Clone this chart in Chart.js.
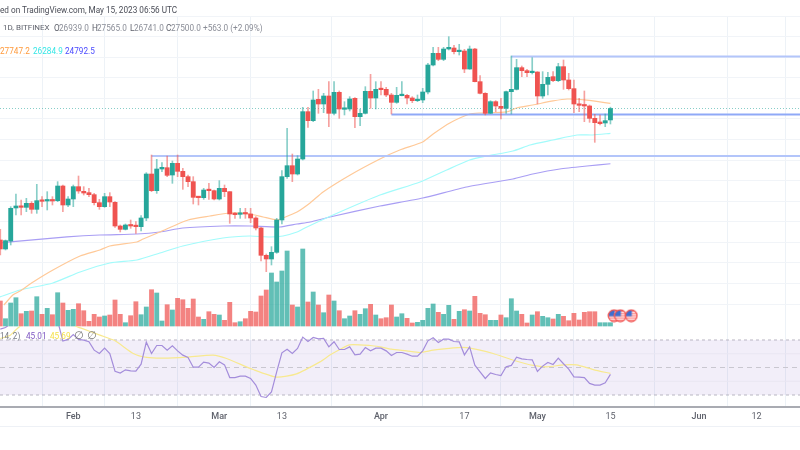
<!DOCTYPE html>
<html><head><meta charset="utf-8">
<style>
html,body{margin:0;padding:0;background:#fff;width:800px;height:450px;overflow:hidden}
#wrap{position:relative;width:800px;height:450px;filter:blur(0.35px)}
canvas{position:absolute;left:0;top:0}
.t{position:absolute;white-space:nowrap;font-family:Roboto,sans-serif;line-height:12px;color:#8a8d97;font-size:8.2px}
</style></head><body><div id="wrap"><canvas id="c" width="800" height="450"></canvas></div>
<script src="https://cdn.jsdelivr.net/npm/chart.js@4"></script>
<script>
const firstDay=-14;
const opens=[21057,20616,21008,22625,22723,22657,22853,22559,23000,22968,23017,22984,23702,22772,23065,23670,23441,23376,23278,22886,22690,23180,22902,21743,21579,21792,21743,21710,22135,24290,23474,24535,24600,24241,24813,24421,24160,23915,23163,23131,23523,23474,23065,23588,23425,22331,22314,22363,22331,22135,21645,20306,20126,20453,22037,24160,24698,24290,25025,27345,26904,27949,27721,28113,27264,28292,27460,27476,27998,27100,27264,28341,28015,28456,28439,28162,27802,28129,28145,28015,27884,27917,28309,29631,30203,29909,30415,30464,30285,30317,29435,30415,28815,28243,27264,27835,27606,27508,28325,28439,29501,29354,29256,29288,28113,28684,29060,28864,29550,28897,28472,27721,27672,27623,27018,26839,26790,26939];
const highs=[21580,21057,22690,23310,23017,23098,22935,23784,23180,23425,23180,23915,23751,23180,23751,24192,23670,23588,23343,23049,23343,23376,22935,21792,21841,22037,21955,22249,24356,25221,25009,24845,25172,24927,25221,24568,24241,24160,23180,23588,23833,23506,23964,23751,23425,22396,22608,22608,22608,22200,21677,20371,20730,22118,24454,26530,25270,25188,27557,27557,28358,28439,28243,28815,28815,28358,27835,28080,28031,27476,28570,29174,28815,28815,28537,28243,28537,28815,28194,28080,28162,28488,29713,30497,30497,30497,31019,30595,30644,30399,30562,30448,29109,28276,27884,27884,27998,28358,30072,29909,29582,29419,29991,29305,29305,29272,29305,29713,29876,29223,28897,27998,28358,27672,27214,27182,27231,27565];
const lows=[20322,20567,20812,22282,22282,22445,22363,22363,22690,22527,22772,22935,22445,22690,22690,23343,23261,23180,22772,22559,22657,22690,21677,21449,21547,21628,21384,21498,22004,23425,23343,24404,24160,23833,24160,23539,23670,22820,22772,23049,23049,23017,23017,23180,21873,22118,22118,22118,21906,21547,20028,19505,19832,20404,21841,24078,23915,24241,24977,26577,26855,27264,27296,26610,27182,27018,27182,27378,26561,26659,27231,27508,27476,28162,28080,27231,27753,28113,27721,27786,27835,27786,28211,29582,29844,29844,30366,30170,30121,29256,29419,28800,28211,27182,27250,27345,26986,27264,27231,28407,29060,29060,29190,27721,27998,28162,28815,28815,28439,28407,27296,27345,26855,26823,25843,26692,26610,26741];
const closes=[20616,21024,22608,22723,22657,22853,22559,22984,22951,23017,22968,23702,22772,23065,23670,23457,23359,23278,22886,22690,23180,22919,21743,21579,21792,21743,21710,22135,24290,23474,24535,24617,24225,24813,24421,24160,23915,23147,23131,23506,23474,23065,23588,23425,22331,22298,22363,22331,22135,21645,20306,20126,20453,22037,24160,24698,24290,25025,27345,26904,27917,27721,28113,27264,28292,27476,27476,27966,27100,27264,28341,28015,28439,28423,28162,27802,28145,28162,28015,27884,27917,28309,29631,30203,29909,30415,30497,30285,30317,29435,30415,28815,28243,27264,27835,27623,27508,28325,28439,29501,29354,29256,29288,28113,28684,29027,28864,29550,28897,28472,27721,27655,27623,27018,26806,26757,26904,27500];
const volumes=[25,7.3,23,28.3,12.3,14.7,15,29.3,11.7,17.7,11.3,33.3,23,15.7,16.7,22.3,15.3,4.7,11.7,9,10,11,26,11.7,3.3,10.3,24.3,11.3,19,36.3,33,5,21.3,16,27.7,26.3,17.7,27,9,6.7,14.3,11.7,11,5.7,23.7,3.3,4.3,7.3,14.7,14,30,36,53,44,55,75,21,19,77,24,34,21,13.3,31,25,15.3,7.3,10,15.3,11.7,17.3,21.7,11,7.3,8.3,21,9,12.3,7.7,3,3.7,5.7,17.7,22,13.7,11.7,20.7,6.7,14.7,16.3,15,29.7,12.7,11.3,5.7,5.7,11,8.3,27.3,15,11.7,3,11,14.3,9.7,8.3,7,11.7,9.7,5.3,12.7,6,13.7,14.3,14.3,3.3,3.3,3.3];
const volumeUpExtraDays=[81,101];
const rsiValues=[77.9,79.1,82,85.6,88,89.3,89.3,89.3,89.3,88,86.8,83.9,69.2,70.4,74,70.4,69.9,68.7,62.6,60.2,64.1,60.2,47.3,45.9,48.3,47.6,47.3,52.4,68.4,60.2,66,66,62.6,65.8,62.1,59,57.3,50.2,50.2,53.9,53.2,50,54.1,51.9,42.7,42.7,43.7,43.7,42,37.2,28.9,28.2,32.3,46.8,60.7,63.3,60.2,63.8,72.1,68.9,71.8,70.8,71.1,65,68.7,63.1,63.1,65,59.2,59.7,64.5,62.1,64.1,64.1,62.1,58.7,60.9,60.9,59.7,58.2,58.2,62.1,69.4,71.6,68.2,70.6,70.6,68.9,68.7,59.2,65,51.7,46.8,42,46.1,44.9,44.2,50.5,51.5,57.5,56.3,55.8,55.6,47.1,51,53.6,52.2,56.8,52.7,48.8,43.2,43,42.7,38.4,37.2,37.2,38.8,45.01];
const rsiMaDays=[-14,-12.1,-11.2,-10.2,-6.4,-1.9,0.5,1.9,5.1,8,11.5,14.1,17.3,21.7,26.8,29.4,34.5,39,42.8,47.3,49.2,51.1,53,56.9,58.8,61,63.9,66.5,69,72.9,75.4,78,80.5,84.4,88.2,90.8,94,96.5,99.7,103];
const rsiMaValues=[71.1,73.5,76.7,80,88,88,80,78.1,73.5,69.4,60.2,57.3,56.8,57.5,59,56.5,48.5,43,45.4,54.1,59,63.1,66.5,66,65,63.3,62.1,60.9,62.6,64.3,64.5,62.6,60.2,55.3,51.5,50.5,51.9,51.9,48.5,45.69];
const ma50Days=[-13.3,-11.6,-10.2,-7.7,-3.9,1.3,5.1,7,12.2,13.4,16.6,22,26.2,30,33.9,36.4,39.1,40.2,42.9,45.4,47.9,53.1,58.8,62.6,67,69,72.2,76,77.9,83.1,85,88.1,92,94.7,98.5,103];
const ma50Values=[17872,18362,18558,18999,19587,20273,20566,20762,20958,21105,21448,22036,22233,22380,22331,22184,22037,22135,22429,22870,23410,24242,25025,25468,25858,26250,26790,27230,27280,27330,27525,27670,27870,27965,27915,27747.2];
const ma100Days=[-14.1,-10.2,-3.9,1.3,7,12.2,16.6,21,28.7,33.9,37.7,40.2,42.9,44.4,49.8,58.8,66.5,71.6,76,79.3,84.3,87.6,92,96.6,99.6,103];
const ma100Values=[18265,18607,18950,19490,19930,20077,20420,20763,21155,21253,21204,21253,21449,21645,22281,23261,23899,24487,24977,25173,25418,25712,25957,26202,26202,26284.9];
const ma200Days=[-14.1,-12.1,-1.2,5.1,12.2,16.6,21,28.7,33.9,39.6,42.9,45.4,49.2,58.8,67,75.4,84.3,88.1,93.3,98.5,103];
const ma200Values=[20910,20960,21205,21302,21351,21448,21644,21742,21742,21693,21840,21938,22183,22722,23115,23654,24046,24290,24536,24683,24792.5];
const levelPrices=[25170,27206,30048];
const levelStartDays=[15,61,84];
const lastPrice=27500;
const rsiBandLevels=[70,50,30];
const rsiGridLevels=[60,40];
const tickDays=[0,12,28,40,59,75,89,103,120,131];
const tickLabels=["Feb","13","Mar","13","Apr","17","May","15","Jun","12"];
const monthTicks=["Feb","Mar","Apr","May","Jun"];
const eventDays=[103.7,104.9,107];
const eventLevel=10.3;

const xMin=-14.056,xMax=139.35;
const days=closes.map((_,i)=>firstDay+i);
const isUp=i=>closes[i]>=opens[i];
const UP='#26a69a',DOWN='#ef5350';

function flagIcon(){
  const c=document.createElement('canvas');c.width=14;c.height=14;const g=c.getContext('2d');
  g.beginPath();g.arc(7,7,5.8,0,Math.PI*2);g.fillStyle='#fff';g.fill();
  g.save();g.clip();
  g.fillStyle='#f77';for(let y=2;y<13;y+=2.2){g.fillRect(0,y,14,1.1)}
  g.fillStyle='#3d6fd0';g.fillRect(1,1,6.5,6.5);
  g.restore();
  g.beginPath();g.arc(7,7,5.8,0,Math.PI*2);g.strokeStyle='#ef5350';g.lineWidth=1.3;g.stroke();
  return c;
}
const lineDs=(xs,ys,color,extra)=>Object.assign({type:'line',yAxisID:'price',data:xs.map((x,i)=>({x,y:ys[i]})),borderColor:color,borderWidth:1.2,pointRadius:0,tension:0.2,fill:false,order:60},extra||{});
const rsiClip={top:-310,left:0,right:0,bottom:0};

const datasets=[
 {type:'line',yAxisID:'rsi',data:[{x:xMin,y:rsiBandLevels[0]},{x:xMax,y:rsiBandLevels[0]}],borderColor:'#b9b6c2',borderWidth:1,borderDash:[3,3],pointRadius:0,fill:{target:{value:rsiBandLevels[2]}},backgroundColor:'rgba(126,87,194,0.10)',order:95},
 {type:'line',yAxisID:'rsi',data:[{x:xMin,y:rsiBandLevels[1]},{x:xMax,y:rsiBandLevels[1]}],borderColor:'#c9c7d0',borderWidth:1,borderDash:[5,4],pointRadius:0,order:94},
 {type:'line',yAxisID:'rsi',data:[{x:xMin,y:rsiBandLevels[2]},{x:xMax,y:rsiBandLevels[2]}],borderColor:'#b9b6c2',borderWidth:1,borderDash:[3,3],pointRadius:0,order:93},
 ...rsiGridLevels.map(v=>({type:'line',yAxisID:'rsi',data:[{x:xMin,y:v},{x:xMax,y:v}],borderColor:'#e9e6f2',borderWidth:1,pointRadius:0,order:92})),
 {type:'bar',yAxisID:'vol',grouped:false,barThickness:4.2,data:days.map((x,i)=>({x,y:volumes[i]})),backgroundColor:days.map((d,i)=>(isUp(i)||volumeUpExtraDays.includes(d))?'rgba(38,166,154,0.72)':'rgba(239,83,80,0.72)'),order:80},
 lineDs(ma50Days,ma50Values,'#ffc998'),
 lineDs(ma100Days,ma100Values,'#a3fbfb'),
 lineDs(ma200Days,ma200Values,'#a99ef4'),
 ...levelPrices.map((p,i)=>lineDs([levelStartDays[i],xMax],[p,p],i===1?'#8fa9f7':'#b3c5fa',{borderWidth:2,tension:0,order:55})),
 lineDs([xMin,xMax],[lastPrice,lastPrice],'rgba(38,166,154,0.55)',{borderWidth:1,borderDash:[1,2],tension:0,order:54}),
 {type:'bar',yAxisID:'price',grouped:false,barThickness:1,data:days.map((x,i)=>({x,y:[lows[i],highs[i]]})),backgroundColor:days.map((_,i)=>isUp(i)?'rgba(38,166,154,0.55)':'rgba(239,83,80,0.55)'),order:30},
 {type:'bar',yAxisID:'price',grouped:false,barThickness:4.2,minBarLength:1.5,data:days.map((x,i)=>({x,y:[opens[i],closes[i]]})),backgroundColor:days.map((_,i)=>isUp(i)?UP:DOWN),order:29},
 {type:'line',yAxisID:'rsi',clip:rsiClip,data:rsiMaDays.map((x,i)=>({x,y:rsiMaValues[i]})),borderColor:'#f8e98f',borderWidth:1.2,pointRadius:0,tension:0.2,order:21},
 {type:'line',yAxisID:'rsi',clip:rsiClip,data:days.map((x,i)=>({x,y:rsiValues[i]})),borderColor:'#a48ddb',borderWidth:1.2,pointRadius:0,order:20},
 {type:'scatter',yAxisID:'vol',clip:false,data:eventDays.map(x=>({x,y:eventLevel})),pointStyle:flagIcon(),pointRadius:7,order:1}
];

new Chart(document.getElementById('c'),{
 type:'bar',
 data:{datasets},
 options:{
  responsive:false,animation:false,devicePixelRatio:1,
  layout:{autoPadding:false,padding:{top:16,left:0,right:0,bottom:0}},
  plugins:{legend:{display:false},tooltip:{enabled:false}},
  scales:{
   x:{type:'linear',min:xMin,max:xMax,offset:false,
    afterFit:s=>{s.height=43;s.paddingLeft=0;s.paddingRight=0},
    afterBuildTicks:s=>{s.ticks=tickDays.map(value=>({value}))},
    ticks:{autoSkip:false,maxRotation:0,padding:4,color:'#5f626c',
      font:c=>({family:'Roboto,sans-serif',size:9,weight:monthTicks.includes(tickLabels[tickDays.indexOf(c.tick&&c.tick.value)])?'500':'400'}),
      callback:v=>tickLabels[tickDays.indexOf(v)]},
    grid:{color:'#edf2f7',drawTicks:false},border:{display:true,color:'#a9abb2',width:2}},
   price:{type:'linear',position:'left',min:12873.5,max:32032.5,
    afterFit:s=>{s.width=0},
    ticks:{display:false,stepSize:1000},
    grid:{drawTicks:false,color:c=>c.tick.value>=17000?'#f1f4f8':'rgba(0,0,0,0)'},border:{display:false}},
   vol:{type:'linear',position:'left',display:false,min:-81,max:310},
   rsi:{type:'linear',position:'left',display:false,min:21.27,max:305.6}
  }
 },
 plugins:[{id:'footerRule',afterDraw(ch){const g=ch.ctx;g.save();g.fillStyle='#eef1f6';g.fillRect(0,426,800,1);g.restore();}}]
});

const wrap=document.getElementById('wrap');
function txt(s,x,y,color,extra){const d=document.createElement('div');d.className='t';d.textContent=s;d.style.left=x+'px';d.style.top=(y-6)+'px';if(color)d.style.color=color;if(extra)Object.assign(d.style,extra);wrap.appendChild(d);}
txt('ed on TradingView.com, May 15, 2023 06:56 UTC',0,10,'#4a4d57');
txt('1D, BITFINEX',3,28,'#5f626c',{fontSize:'8px'});
[['O',54,'#5f626c'],['26939.0',59],['H',92,'#5f626c'],['27565.0',97],['L',130,'#5f626c'],['26741.0',134],['C',166,'#5f626c'],['27500.0',171],['+563.0 (+2.09%)',203]].forEach(a=>txt(a[0],a[1],28,a[2]));
txt('27747.2',0,51,'#ff9a3c');txt('26284.9',33,51,'#35e6e6');txt('24792.5',65,51,'#4a4aff');
txt('14, 2)',0,336,'#7b7e88');txt('45.01',26,336,'#7e57c2');txt('45.69',50,336,'#f5e14a');
txt('∅',74,336,'#777',{fontFamily:'DejaVu Sans',fontSize:'11px'});txt('∅',87,336,'#777',{fontFamily:'DejaVu Sans',fontSize:'11px'});
</script></body></html>
